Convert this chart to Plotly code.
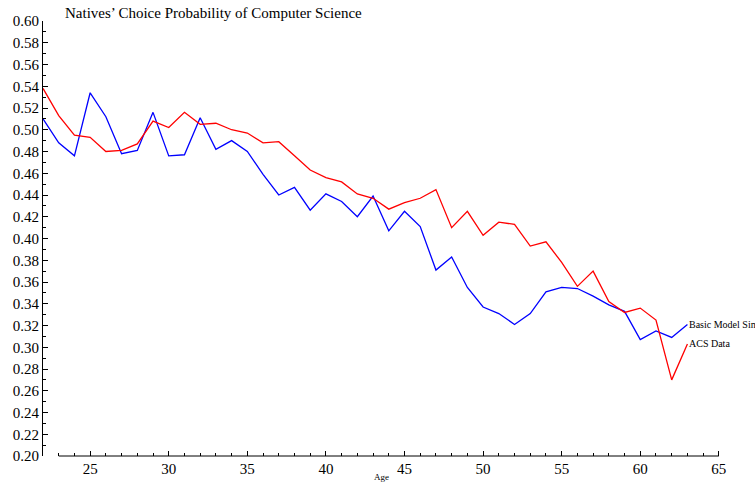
import plotly.graph_objects as go

ages = list(range(22, 64))
acs_data = [0.538, 0.513, 0.495, 0.493, 0.480, 0.481, 0.487, 0.508, 0.502, 0.516,
            0.505, 0.506, 0.500, 0.497, 0.488, 0.489, 0.476, 0.463, 0.456, 0.452,
            0.441, 0.437, 0.427, 0.433, 0.437, 0.445, 0.410, 0.425, 0.403, 0.415,
            0.413, 0.393, 0.397, 0.378, 0.356, 0.370, 0.342, 0.332, 0.336, 0.325,
            0.270, 0.303]
model_sim = [0.510, 0.488, 0.476, 0.534, 0.512, 0.478, 0.481, 0.516, 0.476, 0.477,
             0.511, 0.482, 0.490, 0.480, 0.459, 0.440, 0.447, 0.426, 0.441, 0.434,
             0.420, 0.439, 0.407, 0.425, 0.411, 0.371, 0.383, 0.355, 0.337, 0.331,
             0.321, 0.331, 0.351, 0.355, 0.354, 0.347, 0.339, 0.333, 0.307, 0.315,
             0.309, 0.321]

x_major = [25, 30, 35, 40, 45, 50, 55, 60, 65]
x_minor = [a for a in range(23, 66) if a % 5 != 0]
y_major = [round(0.20 + 0.02 * i, 2) for i in range(21)]
y_labels = [f"{v:.2f}" for v in y_major]

series_names = ["Basic Model Simulation", "ACS Data"]
series_colors = ["#0000ff", "#ff0000"]
series_vals = [model_sim, acs_data]

FONT = "Liberation Serif, Times New Roman, serif"

fig = go.Figure()
for name, col, vals in zip(series_names, series_colors, series_vals):
    fig.add_trace(go.Scatter(x=ages, y=vals, mode="lines", name=name,
                             line=dict(color=col, width=1.3)))

annotations = []
for name, vals in zip(series_names, series_vals):
    annotations.append(dict(x=ages[-1], y=vals[-1], xref="x", yref="y",
                            text=name, showarrow=False, xanchor="left",
                            yanchor="middle", xshift=0,
                            font=dict(family=FONT, size=10, color="black")))
annotations.append(dict(x=0.028, y=1, xref="paper", yref="paper",
                        text="Natives\u2019 Choice Probability of Computer Science",
                        showarrow=False, xanchor="left", yanchor="bottom", yshift=-2,
                        font=dict(family=FONT, size=15, color="black")))
annotations.append(dict(x=0.476, y=0, xref="paper", yref="paper", text="Age",
                        showarrow=False, xanchor="center", yanchor="top", yshift=-14,
                        font=dict(family=FONT, size=9, color="black")))

fig.update_layout(
    width=755, height=485,
    margin=dict(l=43, r=0, t=21, b=29, autoexpand=False),
    plot_bgcolor="white", paper_bgcolor="white",
    showlegend=False,
    annotations=annotations,
    shapes=[dict(type="line", xref="x", yref="paper", x0=x_minor[0], x1=x_major[-1],
                 y0=0, y1=0, line=dict(color="black", width=1))],
    xaxis=dict(range=[22, 67.3], showline=False, showgrid=False, zeroline=False,
               automargin=False, ticklabelstandoff=2,
               tickmode="array", tickvals=x_major, ticktext=[str(v) for v in x_major],
               ticks="inside", ticklen=5, tickcolor="black", tickwidth=1,
               minor=dict(tickmode="array", tickvals=x_minor, ticks="inside",
                          ticklen=3, tickcolor="black", tickwidth=1),
               tickfont=dict(family=FONT, size=15, color="black")),
    yaxis=dict(range=[0.2, 0.6], showline=True, linecolor="black", linewidth=1,
               showgrid=False, zeroline=False, automargin=False,
               tickmode="array", tickvals=y_major, ticktext=y_labels,
               ticks="inside", ticklen=5, tickcolor="black", tickwidth=1,
               minor=dict(tickmode="linear", tick0=0.21, dtick=0.02, ticks="inside",
                          ticklen=3, tickcolor="black", tickwidth=1),
               tickfont=dict(family=FONT, size=15, color="black")),
)

fig.write_html("out.html", config={"displayModeBar": False},
               post_script="document.body.style.margin='0';document.body.style.overflow='hidden';")
